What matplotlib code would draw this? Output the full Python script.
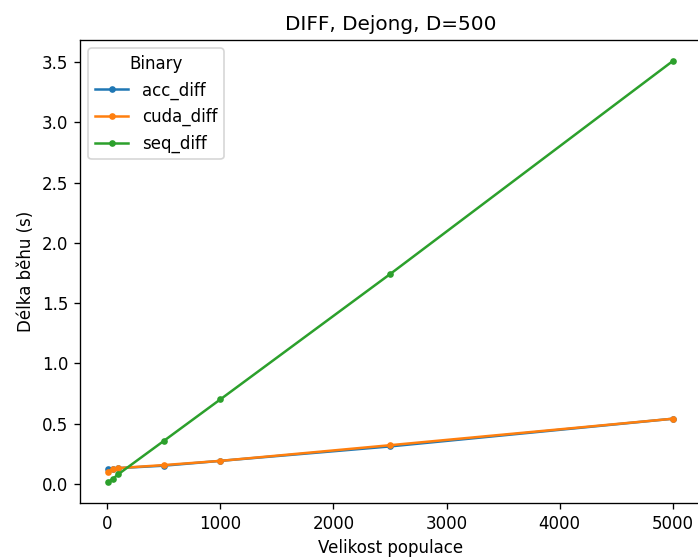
import matplotlib
matplotlib.use("Agg")
import matplotlib.pyplot as plt

pop = [10, 50, 100, 500, 1000, 2500, 5000]
acc_diff = [0.12, 0.12, 0.13, 0.15, 0.19, 0.31, 0.54]
cuda_diff = [0.10, 0.12, 0.13, 0.155, 0.19, 0.32, 0.54]
seq_diff = [0.015, 0.04, 0.08, 0.355, 0.70, 1.74, 3.51]

DPI = 120
fig = plt.figure(figsize=(698/DPI, 559/DPI), dpi=DPI)
ax = fig.add_axes([80/698, 56/559, 621/698, 463/559])
ax.plot(pop, acc_diff, marker='.', label='acc_diff')
ax.plot(pop, cuda_diff, marker='.', label='cuda_diff')
ax.plot(pop, seq_diff, marker='.', label='seq_diff')
ax.set_title('DIFF, Dejong, D=500')
ax.set_xlabel('Velikost populace')
ax.set_ylabel('Délka běhu (s)')
ax.legend(title='Binary', loc='upper left')
fig.savefig('out.png', dpi=DPI)
